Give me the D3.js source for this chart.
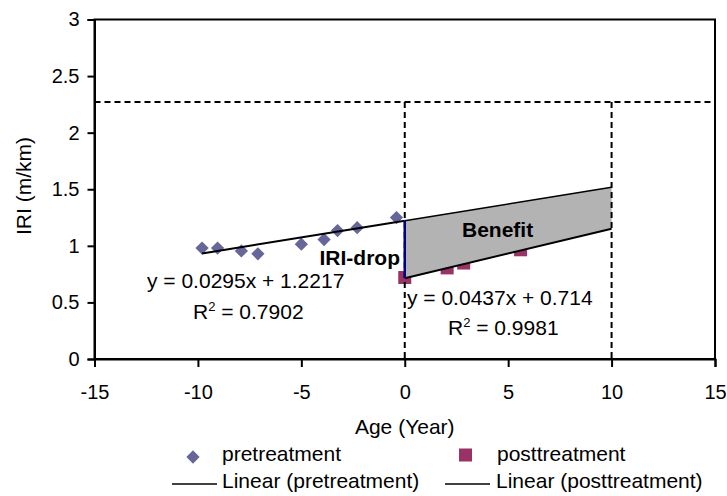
<!DOCTYPE html>
<html>
<head>
<meta charset="utf-8">
<script src="https://cdn.jsdelivr.net/npm/d3@7"></script>
<style>
  body { margin: 0; background: #fff; }
  svg text { font-family: "Liberation Sans", Arial, sans-serif; fill: #000; }
</style>
</head>
<body>
<div id="chart"></div>
<script>
// values
const preAge = [-9.8, -9.05, -7.9, -7.1, -5.0, -3.9, -3.25, -2.3, -0.4];
const preIri = [0.98, 0.98, 0.955, 0.93, 1.015, 1.055, 1.135, 1.16, 1.25];
const postAge = [0, 2.05, 2.85, 5.6];
const postIri = [0.72, 0.805, 0.848, 0.965];
const preFit = [0.0295, 1.2217];   // slope, intercept
const postFit = [0.0437, 0.714];
const threshold = 2.27;           // IRI trigger level
const horizon = 10;               // analysis period, years
const xTicks = [-15, -10, -5, 0, 5, 10, 15];
const yTicks = [0, 0.5, 1, 1.5, 2, 2.5, 3];

const width = 727, height = 496;
const svg = d3.select('#chart').append('svg')
  .attr('width', width)
  .attr('height', height);

const x = d3.scaleLinear().domain([-15, 15]).range([94.5, 715]);
const y = d3.scaleLinear().domain([0, 3]).range([359, 19.5]);

const preLine = a => preFit[0] * a + preFit[1];
const postLine = a => postFit[0] * a + postFit[1];

// plot frame
svg.append('rect')
  .attr('x', x(-15)).attr('y', y(3))
  .attr('width', x(15) - x(-15)).attr('height', y(0) - y(3))
  .attr('fill', 'none').attr('stroke', '#000').attr('stroke-width', 2);

// axes
const yAxis = svg.append('g')
  .attr('transform', 'translate(' + x(-15) + ',0)')
  .call(d3.axisLeft(y).tickValues(yTicks).tickSize(7).tickPadding(8).tickFormat(d3.format('')));
const xAxis = svg.append('g')
  .attr('transform', 'translate(0,' + y(0) + ')')
  .call(d3.axisBottom(x).tickValues(xTicks).tickSize(8).tickFormat(d => d));

[yAxis, xAxis].forEach(a => {
  a.select('.domain').attr('stroke', '#000').attr('stroke-width', 2);
  a.selectAll('.tick line').attr('stroke', '#000').attr('stroke-width', 2);
  a.selectAll('.tick text').style('font-size', '20px').attr('fill', '#000');
});
xAxis.selectAll('.tick text').attr('y', 26);

// samples
const markers = svg.append('g');
const diamond = d3.symbol().type(d3.symbolDiamond2).size(112);
markers.selectAll('.pre').data(preAge).enter()
  .append('path').attr('class', 'pre')
  .attr('d', diamond)
  .attr('transform', (d, i) => 'translate(' + x(d) + ',' + y(preIri[i]) + ')')
  .attr('fill', '#666699');

markers.selectAll('.post').data(postAge).enter()
  .append('rect').attr('class', 'post')
  .attr('x', d => x(d) - 6.5)
  .attr('y', (d, i) => y(postIri[i]) - 6.5)
  .attr('width', 13).attr('height', 13)
  .attr('fill', '#993366');

// trendlines
svg.append('line')
  .attr('x1', x(preAge[0])).attr('y1', y(preLine(preAge[0])))
  .attr('x2', x(0)).attr('y2', y(preLine(0)))
  .attr('stroke', '#000').attr('stroke-width', 2);

// benefit area between the two trends
const area = [[0, preLine(0)], [horizon, preLine(horizon)], [horizon, postLine(horizon)], [0, postLine(0)]];
svg.append('path')
  .attr('d', d3.line().x(d => x(d[0])).y(d => y(d[1]))(area) + 'Z')
  .attr('fill', '#b3b3b3');
svg.append('line')
  .attr('x1', x(0)).attr('y1', y(preLine(0)))
  .attr('x2', x(horizon)).attr('y2', y(preLine(horizon)))
  .attr('stroke', '#000').attr('stroke-width', 1.5);
svg.append('line')
  .attr('x1', x(0)).attr('y1', y(postLine(0)))
  .attr('x2', x(horizon)).attr('y2', y(postLine(horizon)))
  .attr('stroke', '#000').attr('stroke-width', 2);

// dashed guides
const dash = '6,4';
svg.append('line')
  .attr('x1', x(-15)).attr('x2', x(15))
  .attr('y1', y(threshold)).attr('y2', y(threshold))
  .attr('stroke', '#000').attr('stroke-width', 2).attr('stroke-dasharray', dash);
[0, horizon].forEach(a => {
  svg.append('line')
    .attr('x1', x(a)).attr('x2', x(a))
    .attr('y1', y(threshold)).attr('y2', y(0))
    .attr('stroke', '#000').attr('stroke-width', 2).attr('stroke-dasharray', dash);
});

// IRI drop
svg.append('line')
  .attr('x1', x(0)).attr('x2', x(0))
  .attr('y1', y(preLine(0))).attr('y2', y(postLine(0)))
  .attr('stroke', '#000080').attr('stroke-width', 2.5);

// annotations
function label(tx, ty, txt, opts) {
  const t = svg.append('text')
    .attr('x', tx).attr('y', ty)
    .style('font-size', '21px');
  if (opts && opts.bold) t.style('font-weight', 'bold');
  if (opts && opts.anchor) t.attr('text-anchor', opts.anchor);
  t.text(txt);
  return t;
}
function rLabel(tx, ty, val) {
  const t = svg.append('text').attr('x', tx).attr('y', ty).style('font-size', '21px');
  t.append('tspan').text('R');
  t.append('tspan').attr('dy', -8).style('font-size', '13px').text('2');
  t.append('tspan').attr('dy', 8).text(' = ' + val);
}

label(147, 288, 'y = 0.0295x + 1.2217');
rLabel(193, 319, '0.7902');
label(407, 305, 'y = 0.0437x + 0.714');
rLabel(448, 335, '0.9981');
label(400, 265, 'IRI-drop', { bold: true, anchor: 'end' });
label(462, 237, 'Benefit', { bold: true });

// axis titles
svg.append('text')
  .attr('transform', 'translate(31,' + 186 + ') rotate(-90)')
  .attr('text-anchor', 'middle')
  .style('font-size', '21px')
  .text('IRI (m/km)');
svg.append('text')
  .attr('x', x(0)).attr('y', 434)
  .attr('text-anchor', 'middle')
  .style('font-size', '21px')
  .text('Age (Year)');

// legend
const legend = svg.append('g');
legend.append('path').attr('d', diamond).attr('transform', 'translate(193,457)').attr('fill', '#666699');
legend.append('text').attr('x', 222).attr('y', 461).style('font-size', '21px').text('pretreatment');
legend.append('rect').attr('x', 459).attr('y', 448.5).attr('width', 13).attr('height', 13).attr('fill', '#993366');
legend.append('text').attr('x', 497).attr('y', 461).style('font-size', '21px').text('posttreatment');
legend.append('line').attr('x1', 172).attr('x2', 217).attr('y1', 484).attr('y2', 484).attr('stroke', '#000').attr('stroke-width', 1.5);
legend.append('text').attr('x', 222).attr('y', 488).style('font-size', '21px').text('Linear (pretreatment)');
legend.append('line').attr('x1', 445).attr('x2', 490).attr('y1', 484).attr('y2', 484).attr('stroke', '#000').attr('stroke-width', 1.5);
legend.append('text').attr('x', 496).attr('y', 488).style('font-size', '21px').text('Linear (posttreatment)');
</script>
</body>
</html>
